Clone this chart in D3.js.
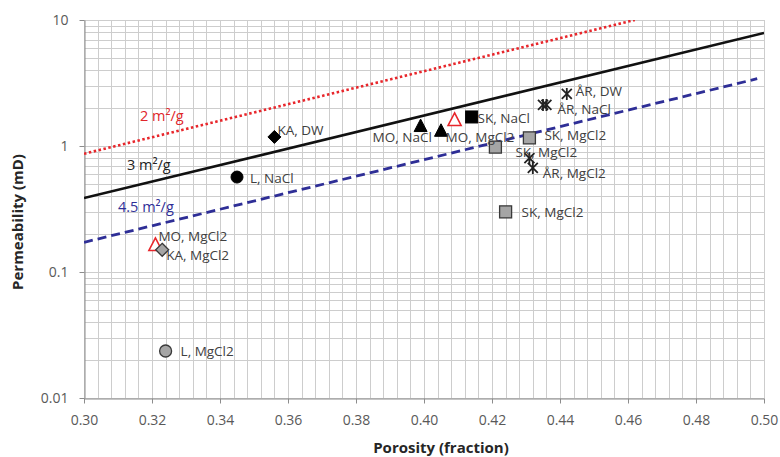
<!DOCTYPE html>
<html>
<head>
<meta charset="utf-8">
<script src="https://cdn.jsdelivr.net/npm/d3@7"></script>
<style>
  html, body { margin: 0; padding: 0; background: #fff; }
  svg { display: block; }
</style>
</head>
<body>
<svg id="chart" width="780" height="457"></svg>
<script>
// ---------------- DATA ----------------
const xTickLabels = ["0.30","0.32","0.34","0.36","0.38","0.40","0.42","0.44","0.46","0.48","0.50"];
const yTickLabels = ["0.01","0.1","1","10"];

// Reference lines (specific surface area), endpoints
const lineNames = ["2 m²/g", "3 m²/g", "4.5 m²/g"];
const linePorosity = [[0.30, 0.462], [0.30, 0.50], [0.30, 0.498]];
const linePermeability = [[0.868, 10], [0.386, 7.9], [0.172, 3.42]];

// Measured samples
const pointLabels = ["KA, DW", "L, NaCl", "MO, NaCl", "MO, NaCl", "MO, MgCl2", "SK, NaCl",
  "SK, MgCl2", "SK, MgCl2", "SK, MgCl2", "ÅR, DW", "ÅR, NaCl", "ÅR, NaCl",
  "ÅR, MgCl2", "ÅR, MgCl2", "MO, MgCl2", "KA, MgCl2", "L, MgCl2"];
const pointPorosity = [0.356, 0.345, 0.399, 0.405, 0.409, 0.414,
  0.421, 0.431, 0.424, 0.442, 0.435, 0.436,
  0.431, 0.432, 0.321, 0.323, 0.324];
const pointPermeability = [1.18, 0.567, 1.44, 1.32, 1.61, 1.70,
  0.98, 1.16, 0.30, 2.59, 2.12, 2.12,
  0.80, 0.67, 0.164, 0.150, 0.0236];
const pointShowLabel = [true, true, true, false, true, true,
  true, true, true, true, false, true,
  false, true, true, true, true];

// ---------------- CHART ----------------
const svg = d3.select("#chart");
const x = d3.scaleLinear().domain([0.30, 0.50]).range([84, 764]);
const y = d3.scaleLog().domain([0.01, 10]).range([398, 20]);

const gridColor = "#cdcdcd";
const axisColor = "#8c8c8c";
const textFont = "'Open Sans', sans-serif";

// grid
const grid = svg.append("g");
const vLines = d3.range(0, 51).map(i => 0.30 + i * 0.004);
grid.selectAll("line.v").data(vLines).enter().append("line")
  .attr("x1", d => Math.round(x(d)) + 0.5).attr("x2", d => Math.round(x(d)) + 0.5)
  .attr("y1", y(10)).attr("y2", y(0.01))
  .attr("stroke", gridColor).attr("stroke-width", 1);
const hLines = [];
[0.01, 0.1, 1].forEach(dec => { for (let m = 1; m <= 9; m++) hLines.push(dec * m); });
hLines.push(10);
grid.selectAll("line.h").data(hLines).enter().append("line")
  .attr("y1", d => Math.round(y(d)) + 0.5).attr("y2", d => Math.round(y(d)) + 0.5)
  .attr("x1", x(0.30)).attr("x2", x(0.50))
  .attr("stroke", gridColor).attr("stroke-width", 1);

// axes
const xAxis = d3.axisBottom(x).tickValues(xTickLabels.map(Number))
  .tickFormat((d, i) => xTickLabels[i]).tickSize(5).tickSizeOuter(0).tickPadding(12);
const gx = svg.append("g").attr("transform", `translate(0,${y(0.01) + 0.5})`).call(xAxis);
const yAxis = d3.axisLeft(y).tickValues(yTickLabels.map(Number))
  .tickFormat((d, i) => yTickLabels[i]).tickSize(5).tickSizeOuter(0).tickPadding(11);
const gy = svg.append("g").attr("transform", `translate(${x(0.30) + 0.5},0)`).call(yAxis);
[gx, gy].forEach(g => {
  g.select(".domain").attr("stroke", axisColor);
  g.selectAll(".tick line").attr("stroke", axisColor);
  g.selectAll(".tick text").attr("fill", "#595959")
    .style("font-family", textFont).style("font-size", "14px");
});

// reference lines
svg.append("clipPath").attr("id", "plotClip").append("rect")
  .attr("x", x(0.30)).attr("y", y(10)).attr("width", x(0.50) - x(0.30)).attr("height", y(0.01) - y(10));
const lineStyles = [
  { color: "#e8262b", dash: "2.5,2.5", width: 2.6 },
  { color: "#111111", dash: null, width: 2.6 },
  { color: "#2e2e96", dash: "9,5", width: 2.8 }
];
const lineGen = d3.line().x(d => x(d[0])).y(d => y(d[1]));
const lines = svg.append("g").attr("clip-path", "url(#plotClip)");
lineNames.forEach((name, i) => {
  const pts = linePorosity[i].map((p, j) => [p, linePermeability[i][j]]);
  lines.append("path").datum(pts).attr("d", lineGen)
    .attr("fill", "none").attr("stroke", lineStyles[i].color)
    .attr("stroke-width", lineStyles[i].width)
    .attr("stroke-dasharray", lineStyles[i].dash);
});
// line labels
const lineLabelPos = [[140, 121], [127, 170], [118, 212]];
lineNames.forEach((name, i) => {
  svg.append("text").attr("x", lineLabelPos[i][0]).attr("y", lineLabelPos[i][1])
    .attr("fill", i === 0 ? "#e0262b" : (i === 1 ? "#222" : "#2e2e96"))
    .style("font-family", textFont).style("font-size", "14.5px")
    .text(name);
});

// markers
function markerStyle(label) {
  const [sample, fluid] = label.split(", ");
  const gray = fluid === "MgCl2";
  if (sample === "MO" && gray) return { shape: "triangle", fill: "#fff", stroke: "#e8262b", sw: 1.6 };
  const shape = { KA: "diamond", L: "circle", MO: "triangle", SK: "square", "ÅR": "star" }[sample];
  return gray ? { shape, fill: "#a5a5a5", stroke: "#3a3a3a", sw: 1.3 }
              : { shape, fill: "#000", stroke: "#000", sw: 1 };
}
const marks = svg.append("g");
pointLabels.forEach((lab, i) => {
  const cx = x(pointPorosity[i]), cy = y(pointPermeability[i]);
  const st = markerStyle(lab);
  const g = marks.append("g").attr("transform", `translate(${cx},${cy})`);
  if (st.shape === "circle") {
    g.append("circle").attr("r", 6).attr("fill", st.fill).attr("stroke", st.stroke).attr("stroke-width", st.sw);
  } else if (st.shape === "square") {
    g.append("rect").attr("x", -6).attr("y", -6).attr("width", 12).attr("height", 12)
      .attr("fill", st.fill).attr("stroke", st.stroke).attr("stroke-width", st.sw);
  } else if (st.shape === "diamond") {
    g.append("path").attr("d", "M0,-6.5L6.5,0L0,6.5L-6.5,0Z")
      .attr("fill", st.fill).attr("stroke", st.stroke).attr("stroke-width", st.sw);
  } else if (st.shape === "triangle") {
    g.append("path").attr("d", "M0,-7L6.5,5.5L-6.5,5.5Z")
      .attr("fill", st.fill).attr("stroke", st.stroke).attr("stroke-width", st.sw);
  } else if (st.shape === "star") {
    g.append("path").attr("d", "M-5,-5L5,5M-5,5L5,-5M0,-6L0,6")
      .attr("fill", "none").attr("stroke", "#222").attr("stroke-width", 1.8);
  }
});

// point labels (offset from marker, in px)
const labelOffsets = [[3, -7], [13, 1], [-48, 11], [0, 0], [-9, 17], [6, 1],
  [20, 5], [15, -3], [16, 0], [9, -3], [0, 0], [11, 4],
  [0, 0], [10, 5], [3, -9], [4, 5], [15, 0]];
const labelsG = svg.append("g");
pointLabels.forEach((lab, i) => {
  if (!pointShowLabel[i]) return;
  const cx = x(pointPorosity[i]), cy = y(pointPermeability[i]);
  labelsG.append("text")
    .attr("x", cx + labelOffsets[i][0]).attr("y", cy + labelOffsets[i][1])
    .attr("dy", "0.35em").attr("fill", "#404040")
    .style("font-family", textFont).style("font-size", "13.5px")
    .text(lab);
});

// axis titles
svg.append("text").attr("x", 441).attr("y", 453).attr("text-anchor", "middle")
  .attr("fill", "#262626").style("font-family", textFont).style("font-weight", "bold").style("font-size", "15px")
  .text("Porosity (fraction)");
svg.append("text").attr("transform", "translate(23,222) rotate(-90)").attr("text-anchor", "middle")
  .attr("fill", "#262626").style("font-family", textFont).style("font-weight", "bold").style("font-size", "15px")
  .text("Permeability (mD)");
</script>
</body>
</html>
